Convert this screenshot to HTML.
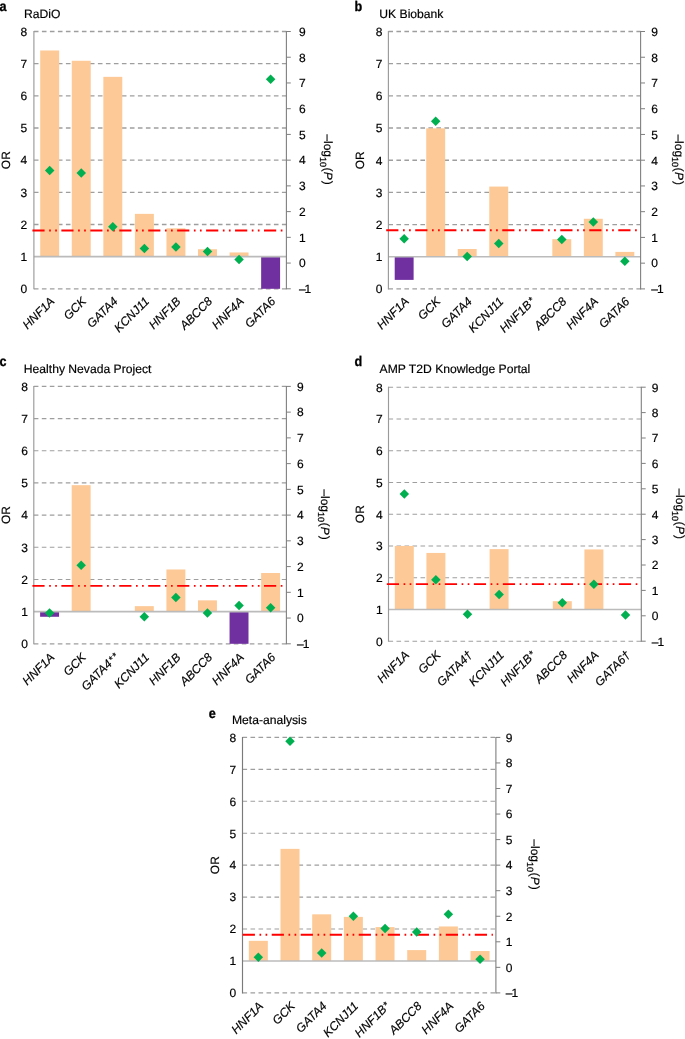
<!DOCTYPE html>
<html><head><meta charset="utf-8"><style>
html,body{margin:0;padding:0;background:#fff;width:685px;height:1039px;overflow:hidden;}
svg{display:block;will-change:transform;text-rendering:geometricPrecision;}
.t{font-family:'Liberation Sans', sans-serif;font-size:12px;fill:#000;stroke:#000;stroke-width:0.18px;}
.i{font-style:italic;}
.b{font-weight:bold;font-size:14px;stroke-width:0.3px;}
</style></head><body>
<svg width="685" height="1039" viewBox="0 0 685 1039">
<rect width="685" height="1039" fill="#fff"/>
<line x1="33.9" y1="288.8" x2="286.4" y2="288.8" stroke="#9E9E9E" stroke-width="1.35" stroke-dasharray="4.6 3.4"/>
<line x1="33.9" y1="224.48" x2="286.4" y2="224.48" stroke="#9E9E9E" stroke-width="1.35" stroke-dasharray="4.6 3.4"/>
<line x1="33.9" y1="192.31" x2="286.4" y2="192.31" stroke="#9E9E9E" stroke-width="1.35" stroke-dasharray="4.6 3.4"/>
<line x1="33.9" y1="160.15" x2="286.4" y2="160.15" stroke="#9E9E9E" stroke-width="1.35" stroke-dasharray="4.6 3.4"/>
<line x1="33.9" y1="127.99" x2="286.4" y2="127.99" stroke="#9E9E9E" stroke-width="1.35" stroke-dasharray="4.6 3.4"/>
<line x1="33.9" y1="95.82" x2="286.4" y2="95.82" stroke="#9E9E9E" stroke-width="1.35" stroke-dasharray="4.6 3.4"/>
<line x1="33.9" y1="63.66" x2="286.4" y2="63.66" stroke="#9E9E9E" stroke-width="1.35" stroke-dasharray="4.6 3.4"/>
<line x1="33.9" y1="31.5" x2="286.4" y2="31.5" stroke="#9E9E9E" stroke-width="1.35" stroke-dasharray="4.6 3.4"/>
<rect x="40.21" y="50.48" width="18.94" height="206.16" fill="#FDC996"/>
<rect x="71.77" y="60.77" width="18.94" height="195.87" fill="#FDC996"/>
<rect x="103.34" y="76.85" width="18.94" height="179.79" fill="#FDC996"/>
<rect x="134.9" y="213.86" width="18.94" height="42.78" fill="#FDC996"/>
<rect x="166.46" y="228.33" width="18.94" height="28.3" fill="#FDC996"/>
<rect x="198.02" y="249.24" width="18.94" height="7.4" fill="#FDC996"/>
<rect x="229.59" y="252.46" width="18.94" height="4.18" fill="#FDC996"/>
<rect x="261.15" y="256.64" width="18.94" height="32.16" fill="#7030A0"/>
<line x1="33.9" y1="256.64" x2="286.4" y2="256.64" stroke="#BBBBBB" stroke-width="1.6"/>
<line x1="33.9" y1="31" x2="33.9" y2="289.3" stroke="#9A9A9A" stroke-width="1.15"/>
<line x1="286.4" y1="31" x2="286.4" y2="289.3" stroke="#7F7F7F" stroke-width="1.1"/>
<line x1="286.4" y1="288.8" x2="290.8" y2="288.8" stroke="#7F7F7F" stroke-width="1"/>
<line x1="286.4" y1="263.07" x2="290.8" y2="263.07" stroke="#7F7F7F" stroke-width="1"/>
<line x1="286.4" y1="237.34" x2="290.8" y2="237.34" stroke="#7F7F7F" stroke-width="1"/>
<line x1="286.4" y1="211.61" x2="290.8" y2="211.61" stroke="#7F7F7F" stroke-width="1"/>
<line x1="286.4" y1="185.88" x2="290.8" y2="185.88" stroke="#7F7F7F" stroke-width="1"/>
<line x1="286.4" y1="160.15" x2="290.8" y2="160.15" stroke="#7F7F7F" stroke-width="1"/>
<line x1="286.4" y1="134.42" x2="290.8" y2="134.42" stroke="#7F7F7F" stroke-width="1"/>
<line x1="286.4" y1="108.69" x2="290.8" y2="108.69" stroke="#7F7F7F" stroke-width="1"/>
<line x1="286.4" y1="82.96" x2="290.8" y2="82.96" stroke="#7F7F7F" stroke-width="1"/>
<line x1="286.4" y1="57.23" x2="290.8" y2="57.23" stroke="#7F7F7F" stroke-width="1"/>
<line x1="286.4" y1="31.5" x2="290.8" y2="31.5" stroke="#7F7F7F" stroke-width="1"/>
<line x1="32.4" y1="230.5" x2="283.4" y2="230.5" stroke="#FF0000" stroke-width="1.9" stroke-dasharray="12.19 4.56 1.69 4.36 1.69 4.46"/>
<path d="M49.68 165.69L54.43 170.44L49.68 175.19L44.93 170.44Z" fill="#00B050"/>
<path d="M81.24 168.27L85.99 173.02L81.24 177.77L76.49 173.02Z" fill="#00B050"/>
<path d="M112.81 222.04L117.56 226.79L112.81 231.54L108.06 226.79Z" fill="#00B050"/>
<path d="M144.37 243.65L149.12 248.4L144.37 253.15L139.62 248.4Z" fill="#00B050"/>
<path d="M175.93 242.37L180.68 247.12L175.93 251.87L171.18 247.12Z" fill="#00B050"/>
<path d="M207.49 246.74L212.24 251.49L207.49 256.24L202.74 251.49Z" fill="#00B050"/>
<path d="M239.06 254.72L243.81 259.47L239.06 264.22L234.31 259.47Z" fill="#00B050"/>
<path d="M270.62 74.61L275.37 79.36L270.62 84.11L265.87 79.36Z" fill="#00B050"/>
<text x="27.1" y="293.1" text-anchor="end" class="t">0</text>
<text x="27.1" y="260.94" text-anchor="end" class="t">1</text>
<text x="27.1" y="228.78" text-anchor="end" class="t">2</text>
<text x="27.1" y="196.61" text-anchor="end" class="t">3</text>
<text x="27.1" y="164.45" text-anchor="end" class="t">4</text>
<text x="27.1" y="132.29" text-anchor="end" class="t">5</text>
<text x="27.1" y="100.12" text-anchor="end" class="t">6</text>
<text x="27.1" y="67.96" text-anchor="end" class="t">7</text>
<text x="27.1" y="35.8" text-anchor="end" class="t">8</text>
<text x="298.9" y="293.1" class="t">–<tspan dx="-1">1</tspan></text>
<text x="298.9" y="267.37" class="t">0</text>
<text x="298.9" y="241.64" class="t">1</text>
<text x="298.9" y="215.91" class="t">2</text>
<text x="298.9" y="190.18" class="t">3</text>
<text x="298.9" y="164.45" class="t">4</text>
<text x="298.9" y="138.72" class="t">5</text>
<text x="298.9" y="112.99" class="t">6</text>
<text x="298.9" y="87.26" class="t">7</text>
<text x="298.9" y="61.53" class="t">8</text>
<text x="298.9" y="35.8" class="t">9</text>
<text x="55.28" y="302" text-anchor="end" class="t i" transform="rotate(-45 55.28 302)">HNF1A</text>
<text x="86.84" y="302" text-anchor="end" class="t i" transform="rotate(-45 86.84 302)">GCK</text>
<text x="118.41" y="302" text-anchor="end" class="t i" transform="rotate(-45 118.41 302)">GATA4</text>
<text x="149.97" y="302" text-anchor="end" class="t i" transform="rotate(-45 149.97 302)">KCNJ11</text>
<text x="181.53" y="302" text-anchor="end" class="t i" transform="rotate(-45 181.53 302)">HNF1B</text>
<text x="213.09" y="302" text-anchor="end" class="t i" transform="rotate(-45 213.09 302)">ABCC8</text>
<text x="244.66" y="302" text-anchor="end" class="t i" transform="rotate(-45 244.66 302)">HNF4A</text>
<text x="276.22" y="302" text-anchor="end" class="t i" transform="rotate(-45 276.22 302)">GATA6</text>
<text x="9.9" y="160.15" text-anchor="middle" class="t" transform="rotate(-90 9.9 160.15)">OR</text>
<text x="0" y="0" class="t" transform="translate(323.6 134.35) rotate(90)">–log<tspan font-size="9" dy="3.8">10</tspan><tspan dy="-3.8" dx="0.4">(</tspan><tspan font-style="italic" dx="0.4">P</tspan><tspan dx="1.0">)</tspan></text>
<text x="0" y="0" class="t b" transform="translate(-0.6 10.9) scale(0.9 1)">a</text>
<text x="24" y="18" class="t" style="font-size:12.15px">RaDiO</text>
<line x1="388.4" y1="288.9" x2="640.6" y2="288.9" stroke="#9E9E9E" stroke-width="1.35" stroke-dasharray="4.6 3.4"/>
<line x1="388.4" y1="224.55" x2="640.6" y2="224.55" stroke="#9E9E9E" stroke-width="1.35" stroke-dasharray="4.6 3.4"/>
<line x1="388.4" y1="192.38" x2="640.6" y2="192.38" stroke="#9E9E9E" stroke-width="1.35" stroke-dasharray="4.6 3.4"/>
<line x1="388.4" y1="160.2" x2="640.6" y2="160.2" stroke="#9E9E9E" stroke-width="1.35" stroke-dasharray="4.6 3.4"/>
<line x1="388.4" y1="128.02" x2="640.6" y2="128.02" stroke="#9E9E9E" stroke-width="1.35" stroke-dasharray="4.6 3.4"/>
<line x1="388.4" y1="95.85" x2="640.6" y2="95.85" stroke="#9E9E9E" stroke-width="1.35" stroke-dasharray="4.6 3.4"/>
<line x1="388.4" y1="63.68" x2="640.6" y2="63.68" stroke="#9E9E9E" stroke-width="1.35" stroke-dasharray="4.6 3.4"/>
<line x1="388.4" y1="31.5" x2="640.6" y2="31.5" stroke="#9E9E9E" stroke-width="1.35" stroke-dasharray="4.6 3.4"/>
<rect x="394.7" y="256.72" width="18.92" height="23.17" fill="#7030A0"/>
<rect x="426.23" y="128.35" width="18.92" height="128.38" fill="#FDC996"/>
<rect x="457.75" y="249" width="18.92" height="7.72" fill="#FDC996"/>
<rect x="489.28" y="186.58" width="18.92" height="70.14" fill="#FDC996"/>
<rect x="552.33" y="239.19" width="18.92" height="17.54" fill="#FDC996"/>
<rect x="583.86" y="218.76" width="18.92" height="37.97" fill="#FDC996"/>
<rect x="615.38" y="251.9" width="18.92" height="4.83" fill="#FDC996"/>
<line x1="388.4" y1="256.72" x2="640.6" y2="256.72" stroke="#BBBBBB" stroke-width="1.6"/>
<line x1="388.4" y1="31" x2="388.4" y2="289.4" stroke="#9A9A9A" stroke-width="1.15"/>
<line x1="640.6" y1="31" x2="640.6" y2="289.4" stroke="#7F7F7F" stroke-width="1.1"/>
<line x1="640.6" y1="288.9" x2="645" y2="288.9" stroke="#7F7F7F" stroke-width="1"/>
<line x1="640.6" y1="263.16" x2="645" y2="263.16" stroke="#7F7F7F" stroke-width="1"/>
<line x1="640.6" y1="237.42" x2="645" y2="237.42" stroke="#7F7F7F" stroke-width="1"/>
<line x1="640.6" y1="211.68" x2="645" y2="211.68" stroke="#7F7F7F" stroke-width="1"/>
<line x1="640.6" y1="185.94" x2="645" y2="185.94" stroke="#7F7F7F" stroke-width="1"/>
<line x1="640.6" y1="160.2" x2="645" y2="160.2" stroke="#7F7F7F" stroke-width="1"/>
<line x1="640.6" y1="134.46" x2="645" y2="134.46" stroke="#7F7F7F" stroke-width="1"/>
<line x1="640.6" y1="108.72" x2="645" y2="108.72" stroke="#7F7F7F" stroke-width="1"/>
<line x1="640.6" y1="82.98" x2="645" y2="82.98" stroke="#7F7F7F" stroke-width="1"/>
<line x1="640.6" y1="57.24" x2="645" y2="57.24" stroke="#7F7F7F" stroke-width="1"/>
<line x1="640.6" y1="31.5" x2="645" y2="31.5" stroke="#7F7F7F" stroke-width="1"/>
<line x1="386.2" y1="230.3" x2="637.6" y2="230.3" stroke="#FF0000" stroke-width="1.9" stroke-dasharray="12.22 4.57 1.69 4.37 1.69 4.47"/>
<path d="M404.16 233.96L408.91 238.71L404.16 243.46L399.41 238.71Z" fill="#00B050"/>
<path d="M435.69 116.58L440.44 121.33L435.69 126.08L430.94 121.33Z" fill="#00B050"/>
<path d="M467.21 251.72L471.96 256.47L467.21 261.22L462.46 256.47Z" fill="#00B050"/>
<path d="M498.74 238.85L503.49 243.6L498.74 248.35L493.99 243.6Z" fill="#00B050"/>
<path d="M561.79 234.73L566.54 239.48L561.79 244.23L557.04 239.48Z" fill="#00B050"/>
<path d="M593.31 217.23L598.06 221.98L593.31 226.73L588.56 221.98Z" fill="#00B050"/>
<path d="M624.84 256.61L629.59 261.36L624.84 266.11L620.09 261.36Z" fill="#00B050"/>
<text x="382.4" y="293.2" text-anchor="end" class="t">0</text>
<text x="382.4" y="261.02" text-anchor="end" class="t">1</text>
<text x="382.4" y="228.85" text-anchor="end" class="t">2</text>
<text x="382.4" y="196.68" text-anchor="end" class="t">3</text>
<text x="382.4" y="164.5" text-anchor="end" class="t">4</text>
<text x="382.4" y="132.32" text-anchor="end" class="t">5</text>
<text x="382.4" y="100.15" text-anchor="end" class="t">6</text>
<text x="382.4" y="67.98" text-anchor="end" class="t">7</text>
<text x="382.4" y="35.8" text-anchor="end" class="t">8</text>
<text x="651.2" y="293.2" class="t">–<tspan dx="-1">1</tspan></text>
<text x="651.2" y="267.46" class="t">0</text>
<text x="651.2" y="241.72" class="t">1</text>
<text x="651.2" y="215.98" class="t">2</text>
<text x="651.2" y="190.24" class="t">3</text>
<text x="651.2" y="164.5" class="t">4</text>
<text x="651.2" y="138.76" class="t">5</text>
<text x="651.2" y="113.02" class="t">6</text>
<text x="651.2" y="87.28" class="t">7</text>
<text x="651.2" y="61.54" class="t">8</text>
<text x="651.2" y="35.8" class="t">9</text>
<text x="409.66" y="302.2" text-anchor="end" class="t i" transform="rotate(-45 409.66 302.2)">HNF1A</text>
<text x="441.19" y="302.2" text-anchor="end" class="t i" transform="rotate(-45 441.19 302.2)">GCK</text>
<text x="472.71" y="302.2" text-anchor="end" class="t i" transform="rotate(-45 472.71 302.2)">GATA4</text>
<text x="504.24" y="302.2" text-anchor="end" class="t i" transform="rotate(-45 504.24 302.2)">KCNJ11</text>
<text x="535.76" y="302.2" text-anchor="end" class="t i" transform="rotate(-45 535.76 302.2)">HNF1B<tspan font-size="10" dx="0.8" dy="-1.2">*</tspan></text>
<text x="567.29" y="302.2" text-anchor="end" class="t i" transform="rotate(-45 567.29 302.2)">ABCC8</text>
<text x="598.81" y="302.2" text-anchor="end" class="t i" transform="rotate(-45 598.81 302.2)">HNF4A</text>
<text x="630.34" y="302.2" text-anchor="end" class="t i" transform="rotate(-45 630.34 302.2)">GATA6</text>
<text x="364.4" y="160.2" text-anchor="middle" class="t" transform="rotate(-90 364.4 160.2)">OR</text>
<text x="0" y="0" class="t" transform="translate(675.4 134.4) rotate(90)">–log<tspan font-size="9" dy="3.8">10</tspan><tspan dy="-3.8" dx="0.4">(</tspan><tspan font-style="italic" dx="0.4">P</tspan><tspan dx="1.0">)</tspan></text>
<text x="0" y="0" class="t b" transform="translate(354.6 10.9) scale(0.9 1)">b</text>
<text x="379.3" y="17.8" class="t" style="font-size:12.15px">UK Biobank</text>
<line x1="33.8" y1="643.8" x2="286.4" y2="643.8" stroke="#9E9E9E" stroke-width="1.15" stroke-dasharray="4.6 3.4"/>
<line x1="33.8" y1="579.45" x2="286.4" y2="579.45" stroke="#9E9E9E" stroke-width="1.15" stroke-dasharray="4.6 3.4"/>
<line x1="33.8" y1="547.27" x2="286.4" y2="547.27" stroke="#9E9E9E" stroke-width="1.15" stroke-dasharray="4.6 3.4"/>
<line x1="33.8" y1="515.1" x2="286.4" y2="515.1" stroke="#9E9E9E" stroke-width="1.15" stroke-dasharray="4.6 3.4"/>
<line x1="33.8" y1="482.92" x2="286.4" y2="482.92" stroke="#9E9E9E" stroke-width="1.15" stroke-dasharray="4.6 3.4"/>
<line x1="33.8" y1="450.75" x2="286.4" y2="450.75" stroke="#9E9E9E" stroke-width="1.15" stroke-dasharray="4.6 3.4"/>
<line x1="33.8" y1="418.57" x2="286.4" y2="418.57" stroke="#9E9E9E" stroke-width="1.15" stroke-dasharray="4.6 3.4"/>
<line x1="33.8" y1="386.4" x2="286.4" y2="386.4" stroke="#9E9E9E" stroke-width="1.15" stroke-dasharray="4.6 3.4"/>
<rect x="40.11" y="611.62" width="18.94" height="5.15" fill="#7030A0"/>
<rect x="71.69" y="485.18" width="18.94" height="126.45" fill="#FDC996"/>
<rect x="134.84" y="606.16" width="18.94" height="5.47" fill="#FDC996"/>
<rect x="166.41" y="569.48" width="18.94" height="42.15" fill="#FDC996"/>
<rect x="197.99" y="600.36" width="18.94" height="11.26" fill="#FDC996"/>
<rect x="229.56" y="611.62" width="18.94" height="32.17" fill="#7030A0"/>
<rect x="261.14" y="573.01" width="18.94" height="38.61" fill="#FDC996"/>
<line x1="33.8" y1="611.62" x2="286.4" y2="611.62" stroke="#BBBBBB" stroke-width="1.6"/>
<line x1="33.8" y1="385.9" x2="33.8" y2="644.3" stroke="#9A9A9A" stroke-width="1.15"/>
<line x1="286.4" y1="385.9" x2="286.4" y2="644.3" stroke="#7F7F7F" stroke-width="1.1"/>
<line x1="286.4" y1="643.8" x2="290.8" y2="643.8" stroke="#7F7F7F" stroke-width="1"/>
<line x1="286.4" y1="618.06" x2="290.8" y2="618.06" stroke="#7F7F7F" stroke-width="1"/>
<line x1="286.4" y1="592.32" x2="290.8" y2="592.32" stroke="#7F7F7F" stroke-width="1"/>
<line x1="286.4" y1="566.58" x2="290.8" y2="566.58" stroke="#7F7F7F" stroke-width="1"/>
<line x1="286.4" y1="540.84" x2="290.8" y2="540.84" stroke="#7F7F7F" stroke-width="1"/>
<line x1="286.4" y1="515.1" x2="290.8" y2="515.1" stroke="#7F7F7F" stroke-width="1"/>
<line x1="286.4" y1="489.36" x2="290.8" y2="489.36" stroke="#7F7F7F" stroke-width="1"/>
<line x1="286.4" y1="463.62" x2="290.8" y2="463.62" stroke="#7F7F7F" stroke-width="1"/>
<line x1="286.4" y1="437.88" x2="290.8" y2="437.88" stroke="#7F7F7F" stroke-width="1"/>
<line x1="286.4" y1="412.14" x2="290.8" y2="412.14" stroke="#7F7F7F" stroke-width="1"/>
<line x1="286.4" y1="386.4" x2="290.8" y2="386.4" stroke="#7F7F7F" stroke-width="1"/>
<line x1="32.4" y1="585.9" x2="283.4" y2="585.9" stroke="#FF0000" stroke-width="1.9" stroke-dasharray="12.19 4.56 1.69 4.36 1.69 4.46"/>
<path d="M49.59 608.16L54.34 612.91L49.59 617.66L44.84 612.91Z" fill="#00B050"/>
<path d="M81.16 560.54L85.91 565.29L81.16 570.04L76.41 565.29Z" fill="#00B050"/>
<path d="M144.31 612.02L149.06 616.77L144.31 621.52L139.56 616.77Z" fill="#00B050"/>
<path d="M175.89 592.72L180.64 597.47L175.89 602.22L171.14 597.47Z" fill="#00B050"/>
<path d="M207.46 608.16L212.21 612.91L207.46 617.66L202.71 612.91Z" fill="#00B050"/>
<path d="M239.04 600.7L243.79 605.45L239.04 610.2L234.29 605.45Z" fill="#00B050"/>
<path d="M270.61 603.01L275.36 607.76L270.61 612.51L265.86 607.76Z" fill="#00B050"/>
<text x="28" y="648.1" text-anchor="end" class="t">0</text>
<text x="28" y="615.92" text-anchor="end" class="t">1</text>
<text x="28" y="583.75" text-anchor="end" class="t">2</text>
<text x="28" y="551.57" text-anchor="end" class="t">3</text>
<text x="28" y="519.4" text-anchor="end" class="t">4</text>
<text x="28" y="487.22" text-anchor="end" class="t">5</text>
<text x="28" y="455.05" text-anchor="end" class="t">6</text>
<text x="28" y="422.88" text-anchor="end" class="t">7</text>
<text x="28" y="390.7" text-anchor="end" class="t">8</text>
<text x="297" y="648.1" class="t">–<tspan dx="-1">1</tspan></text>
<text x="297" y="622.36" class="t">0</text>
<text x="297" y="596.62" class="t">1</text>
<text x="297" y="570.88" class="t">2</text>
<text x="297" y="545.14" class="t">3</text>
<text x="297" y="519.4" class="t">4</text>
<text x="297" y="493.66" class="t">5</text>
<text x="297" y="467.92" class="t">6</text>
<text x="297" y="442.18" class="t">7</text>
<text x="297" y="416.44" class="t">8</text>
<text x="297" y="390.7" class="t">9</text>
<text x="55.19" y="658" text-anchor="end" class="t i" transform="rotate(-45 55.19 658)">HNF1A</text>
<text x="86.76" y="658" text-anchor="end" class="t i" transform="rotate(-45 86.76 658)">GCK</text>
<text x="119.54" y="657.8" text-anchor="end" class="t i" transform="rotate(-45 119.54 657.8)">GATA4<tspan font-size="10" dx="0.8" dy="-1.2">*</tspan><tspan font-size="10" dx="1.0">*</tspan></text>
<text x="149.91" y="658" text-anchor="end" class="t i" transform="rotate(-45 149.91 658)">KCNJ11</text>
<text x="181.49" y="658" text-anchor="end" class="t i" transform="rotate(-45 181.49 658)">HNF1B</text>
<text x="213.06" y="658" text-anchor="end" class="t i" transform="rotate(-45 213.06 658)">ABCC8</text>
<text x="244.64" y="658" text-anchor="end" class="t i" transform="rotate(-45 244.64 658)">HNF4A</text>
<text x="276.21" y="658" text-anchor="end" class="t i" transform="rotate(-45 276.21 658)">GATA6</text>
<text x="9.8" y="515.1" text-anchor="middle" class="t" transform="rotate(-90 9.8 515.1)">OR</text>
<text x="0" y="0" class="t" transform="translate(321.4 489.3) rotate(90)">–log<tspan font-size="9" dy="3.8">10</tspan><tspan dy="-3.8" dx="0.4">(</tspan><tspan font-style="italic" dx="0.4">P</tspan><tspan dx="1.0">)</tspan></text>
<text x="0" y="0" class="t b" transform="translate(-0.6 366.3) scale(0.9 1)">c</text>
<text x="23.8" y="372.8" class="t" style="font-size:12.15px">Healthy Nevada Project</text>
<line x1="388.5" y1="641.2" x2="641.3" y2="641.2" stroke="#9E9E9E" stroke-width="1.15" stroke-dasharray="4.6 3.4"/>
<line x1="388.5" y1="577.7" x2="641.3" y2="577.7" stroke="#9E9E9E" stroke-width="1.15" stroke-dasharray="4.6 3.4"/>
<line x1="388.5" y1="545.95" x2="641.3" y2="545.95" stroke="#9E9E9E" stroke-width="1.15" stroke-dasharray="4.6 3.4"/>
<line x1="388.5" y1="514.2" x2="641.3" y2="514.2" stroke="#9E9E9E" stroke-width="1.15" stroke-dasharray="4.6 3.4"/>
<line x1="388.5" y1="482.45" x2="641.3" y2="482.45" stroke="#9E9E9E" stroke-width="1.15" stroke-dasharray="4.6 3.4"/>
<line x1="388.5" y1="450.7" x2="641.3" y2="450.7" stroke="#9E9E9E" stroke-width="1.15" stroke-dasharray="4.6 3.4"/>
<line x1="388.5" y1="418.95" x2="641.3" y2="418.95" stroke="#9E9E9E" stroke-width="1.15" stroke-dasharray="4.6 3.4"/>
<line x1="388.5" y1="387.2" x2="641.3" y2="387.2" stroke="#9E9E9E" stroke-width="1.15" stroke-dasharray="4.6 3.4"/>
<rect x="394.82" y="545.95" width="18.96" height="63.5" fill="#FDC996"/>
<rect x="426.42" y="552.94" width="18.96" height="56.51" fill="#FDC996"/>
<rect x="489.62" y="549.12" width="18.96" height="60.33" fill="#FDC996"/>
<rect x="552.82" y="601.2" width="18.96" height="8.25" fill="#FDC996"/>
<rect x="584.42" y="549.44" width="18.96" height="60.01" fill="#FDC996"/>
<line x1="388.5" y1="609.45" x2="641.3" y2="609.45" stroke="#BBBBBB" stroke-width="1.6"/>
<line x1="388.5" y1="386.7" x2="388.5" y2="641.7" stroke="#9A9A9A" stroke-width="1.15"/>
<line x1="641.3" y1="386.7" x2="641.3" y2="641.7" stroke="#7F7F7F" stroke-width="1.1"/>
<line x1="641.3" y1="641.2" x2="645.7" y2="641.2" stroke="#7F7F7F" stroke-width="1"/>
<line x1="641.3" y1="615.8" x2="645.7" y2="615.8" stroke="#7F7F7F" stroke-width="1"/>
<line x1="641.3" y1="590.4" x2="645.7" y2="590.4" stroke="#7F7F7F" stroke-width="1"/>
<line x1="641.3" y1="565" x2="645.7" y2="565" stroke="#7F7F7F" stroke-width="1"/>
<line x1="641.3" y1="539.6" x2="645.7" y2="539.6" stroke="#7F7F7F" stroke-width="1"/>
<line x1="641.3" y1="514.2" x2="645.7" y2="514.2" stroke="#7F7F7F" stroke-width="1"/>
<line x1="641.3" y1="488.8" x2="645.7" y2="488.8" stroke="#7F7F7F" stroke-width="1"/>
<line x1="641.3" y1="463.4" x2="645.7" y2="463.4" stroke="#7F7F7F" stroke-width="1"/>
<line x1="641.3" y1="438" x2="645.7" y2="438" stroke="#7F7F7F" stroke-width="1"/>
<line x1="641.3" y1="412.6" x2="645.7" y2="412.6" stroke="#7F7F7F" stroke-width="1"/>
<line x1="641.3" y1="387.2" x2="645.7" y2="387.2" stroke="#7F7F7F" stroke-width="1"/>
<line x1="386.8" y1="584.1" x2="638.3" y2="584.1" stroke="#FF0000" stroke-width="1.9" stroke-dasharray="12.22 4.57 1.69 4.37 1.69 4.47"/>
<path d="M404.3 489.13L409.05 493.88L404.3 498.63L399.55 493.88Z" fill="#00B050"/>
<path d="M435.9 574.98L440.65 579.73L435.9 584.48L431.15 579.73Z" fill="#00B050"/>
<path d="M467.5 609.53L472.25 614.28L467.5 619.03L462.75 614.28Z" fill="#00B050"/>
<path d="M499.1 589.71L503.85 594.46L499.1 599.21L494.35 594.46Z" fill="#00B050"/>
<path d="M562.3 598.1L567.05 602.85L562.3 607.6L557.55 602.85Z" fill="#00B050"/>
<path d="M593.9 579.55L598.65 584.3L593.9 589.05L589.15 584.3Z" fill="#00B050"/>
<path d="M625.5 610.29L630.25 615.04L625.5 619.79L620.75 615.04Z" fill="#00B050"/>
<text x="382.7" y="645.5" text-anchor="end" class="t">0</text>
<text x="382.7" y="613.75" text-anchor="end" class="t">1</text>
<text x="382.7" y="582" text-anchor="end" class="t">2</text>
<text x="382.7" y="550.25" text-anchor="end" class="t">3</text>
<text x="382.7" y="518.5" text-anchor="end" class="t">4</text>
<text x="382.7" y="486.75" text-anchor="end" class="t">5</text>
<text x="382.7" y="455" text-anchor="end" class="t">6</text>
<text x="382.7" y="423.25" text-anchor="end" class="t">7</text>
<text x="382.7" y="391.5" text-anchor="end" class="t">8</text>
<text x="651.8" y="645.5" class="t">–<tspan dx="-1">1</tspan></text>
<text x="651.8" y="620.1" class="t">0</text>
<text x="651.8" y="594.7" class="t">1</text>
<text x="651.8" y="569.3" class="t">2</text>
<text x="651.8" y="543.9" class="t">3</text>
<text x="651.8" y="518.5" class="t">4</text>
<text x="651.8" y="493.1" class="t">5</text>
<text x="651.8" y="467.7" class="t">6</text>
<text x="651.8" y="442.3" class="t">7</text>
<text x="651.8" y="416.9" class="t">8</text>
<text x="651.8" y="391.5" class="t">9</text>
<text x="409.9" y="655.8" text-anchor="end" class="t i" transform="rotate(-45 409.9 655.8)">HNF1A</text>
<text x="441.5" y="655.8" text-anchor="end" class="t i" transform="rotate(-45 441.5 655.8)">GCK</text>
<text x="473.1" y="655.8" text-anchor="end" class="t i" transform="rotate(-45 473.1 655.8)">GATA4†</text>
<text x="504.7" y="655.8" text-anchor="end" class="t i" transform="rotate(-45 504.7 655.8)">KCNJ11</text>
<text x="536.3" y="655.8" text-anchor="end" class="t i" transform="rotate(-45 536.3 655.8)">HNF1B<tspan font-size="10" dx="0.8" dy="-1.2">*</tspan></text>
<text x="567.9" y="655.8" text-anchor="end" class="t i" transform="rotate(-45 567.9 655.8)">ABCC8</text>
<text x="599.5" y="655.8" text-anchor="end" class="t i" transform="rotate(-45 599.5 655.8)">HNF4A</text>
<text x="631.1" y="655.8" text-anchor="end" class="t i" transform="rotate(-45 631.1 655.8)">GATA6†</text>
<text x="364.3" y="514.2" text-anchor="middle" class="t" transform="rotate(-90 364.3 514.2)">OR</text>
<text x="0" y="0" class="t" transform="translate(675.8 488.4) rotate(90)">–log<tspan font-size="9" dy="3.8">10</tspan><tspan dy="-3.8" dx="0.4">(</tspan><tspan font-style="italic" dx="0.4">P</tspan><tspan dx="1.0">)</tspan></text>
<text x="0" y="0" class="t b" transform="translate(354.6 366.3) scale(0.9 1)">d</text>
<text x="379.6" y="372.8" class="t" style="font-size:12.15px">AMP T2D Knowledge Portal</text>
<line x1="242.5" y1="992.9" x2="495.9" y2="992.9" stroke="#9E9E9E" stroke-width="1.15" stroke-dasharray="4.6 3.4"/>
<line x1="242.5" y1="929.02" x2="495.9" y2="929.02" stroke="#9E9E9E" stroke-width="1.15" stroke-dasharray="4.6 3.4"/>
<line x1="242.5" y1="897.09" x2="495.9" y2="897.09" stroke="#9E9E9E" stroke-width="1.15" stroke-dasharray="4.6 3.4"/>
<line x1="242.5" y1="865.15" x2="495.9" y2="865.15" stroke="#9E9E9E" stroke-width="1.15" stroke-dasharray="4.6 3.4"/>
<line x1="242.5" y1="833.21" x2="495.9" y2="833.21" stroke="#9E9E9E" stroke-width="1.15" stroke-dasharray="4.6 3.4"/>
<line x1="242.5" y1="801.27" x2="495.9" y2="801.27" stroke="#9E9E9E" stroke-width="1.15" stroke-dasharray="4.6 3.4"/>
<line x1="242.5" y1="769.34" x2="495.9" y2="769.34" stroke="#9E9E9E" stroke-width="1.15" stroke-dasharray="4.6 3.4"/>
<line x1="242.5" y1="737.4" x2="495.9" y2="737.4" stroke="#9E9E9E" stroke-width="1.15" stroke-dasharray="4.6 3.4"/>
<rect x="248.83" y="940.84" width="19" height="20.12" fill="#FDC996"/>
<rect x="280.51" y="848.86" width="19" height="112.1" fill="#FDC996"/>
<rect x="312.19" y="914.33" width="19" height="46.63" fill="#FDC996"/>
<rect x="343.86" y="916.89" width="19" height="44.07" fill="#FDC996"/>
<rect x="375.54" y="927.11" width="19" height="33.85" fill="#FDC996"/>
<rect x="407.21" y="950.1" width="19" height="10.86" fill="#FDC996"/>
<rect x="438.88" y="926.47" width="19" height="34.49" fill="#FDC996"/>
<rect x="470.56" y="951.06" width="19" height="9.9" fill="#FDC996"/>
<line x1="242.5" y1="960.96" x2="495.9" y2="960.96" stroke="#BBBBBB" stroke-width="1.6"/>
<line x1="242.5" y1="736.9" x2="242.5" y2="993.4" stroke="#7A7A7A" stroke-width="1.15"/>
<line x1="495.9" y1="736.9" x2="495.9" y2="993.4" stroke="#7F7F7F" stroke-width="1.1"/>
<line x1="495.9" y1="992.9" x2="500.3" y2="992.9" stroke="#7F7F7F" stroke-width="1"/>
<line x1="495.9" y1="967.35" x2="500.3" y2="967.35" stroke="#7F7F7F" stroke-width="1"/>
<line x1="495.9" y1="941.8" x2="500.3" y2="941.8" stroke="#7F7F7F" stroke-width="1"/>
<line x1="495.9" y1="916.25" x2="500.3" y2="916.25" stroke="#7F7F7F" stroke-width="1"/>
<line x1="495.9" y1="890.7" x2="500.3" y2="890.7" stroke="#7F7F7F" stroke-width="1"/>
<line x1="495.9" y1="865.15" x2="500.3" y2="865.15" stroke="#7F7F7F" stroke-width="1"/>
<line x1="495.9" y1="839.6" x2="500.3" y2="839.6" stroke="#7F7F7F" stroke-width="1"/>
<line x1="495.9" y1="814.05" x2="500.3" y2="814.05" stroke="#7F7F7F" stroke-width="1"/>
<line x1="495.9" y1="788.5" x2="500.3" y2="788.5" stroke="#7F7F7F" stroke-width="1"/>
<line x1="495.9" y1="762.95" x2="500.3" y2="762.95" stroke="#7F7F7F" stroke-width="1"/>
<line x1="495.9" y1="737.4" x2="500.3" y2="737.4" stroke="#7F7F7F" stroke-width="1"/>
<line x1="242.7" y1="934.8" x2="492.9" y2="934.8" stroke="#FF0000" stroke-width="1.9" stroke-dasharray="12.22 4.57 1.69 4.37 1.69 4.47"/>
<path d="M258.34 952.38L263.09 957.13L258.34 961.88L253.59 957.13Z" fill="#00B050"/>
<path d="M290.01 736.48L294.76 741.23L290.01 745.98L285.26 741.23Z" fill="#00B050"/>
<path d="M321.69 948.29L326.44 953.04L321.69 957.79L316.94 953.04Z" fill="#00B050"/>
<path d="M353.36 911.5L358.11 916.25L353.36 921L348.61 916.25Z" fill="#00B050"/>
<path d="M385.04 923.76L389.79 928.51L385.04 933.26L380.29 928.51Z" fill="#00B050"/>
<path d="M416.71 927.34L421.46 932.09L416.71 936.84L411.96 932.09Z" fill="#00B050"/>
<path d="M448.39 909.46L453.14 914.21L448.39 918.96L443.64 914.21Z" fill="#00B050"/>
<path d="M480.06 954.42L484.81 959.17L480.06 963.92L475.31 959.17Z" fill="#00B050"/>
<text x="236.1" y="997.2" text-anchor="end" class="t">0</text>
<text x="236.1" y="965.26" text-anchor="end" class="t">1</text>
<text x="236.1" y="933.32" text-anchor="end" class="t">2</text>
<text x="236.1" y="901.39" text-anchor="end" class="t">3</text>
<text x="236.1" y="869.45" text-anchor="end" class="t">4</text>
<text x="236.1" y="837.51" text-anchor="end" class="t">5</text>
<text x="236.1" y="805.57" text-anchor="end" class="t">6</text>
<text x="236.1" y="773.64" text-anchor="end" class="t">7</text>
<text x="236.1" y="741.7" text-anchor="end" class="t">8</text>
<text x="505.8" y="997.2" class="t">–<tspan dx="-1">1</tspan></text>
<text x="505.8" y="971.65" class="t">0</text>
<text x="505.8" y="946.1" class="t">1</text>
<text x="505.8" y="920.55" class="t">2</text>
<text x="505.8" y="895" class="t">3</text>
<text x="505.8" y="869.45" class="t">4</text>
<text x="505.8" y="843.9" class="t">5</text>
<text x="505.8" y="818.35" class="t">6</text>
<text x="505.8" y="792.8" class="t">7</text>
<text x="505.8" y="767.25" class="t">8</text>
<text x="505.8" y="741.7" class="t">9</text>
<text x="264.04" y="1006.8" text-anchor="end" class="t i" transform="rotate(-45 264.04 1006.8)">HNF1A</text>
<text x="295.71" y="1006.8" text-anchor="end" class="t i" transform="rotate(-45 295.71 1006.8)">GCK</text>
<text x="327.39" y="1006.8" text-anchor="end" class="t i" transform="rotate(-45 327.39 1006.8)">GATA4</text>
<text x="359.06" y="1006.8" text-anchor="end" class="t i" transform="rotate(-45 359.06 1006.8)">KCNJ11</text>
<text x="390.74" y="1006.8" text-anchor="end" class="t i" transform="rotate(-45 390.74 1006.8)">HNF1B<tspan font-size="10" dx="0.8" dy="-1.2">*</tspan></text>
<text x="422.41" y="1006.8" text-anchor="end" class="t i" transform="rotate(-45 422.41 1006.8)">ABCC8</text>
<text x="454.09" y="1006.8" text-anchor="end" class="t i" transform="rotate(-45 454.09 1006.8)">HNF4A</text>
<text x="485.76" y="1006.8" text-anchor="end" class="t i" transform="rotate(-45 485.76 1006.8)">GATA6</text>
<text x="219" y="865.15" text-anchor="middle" class="t" transform="rotate(-90 219 865.15)">OR</text>
<text x="0" y="0" class="t" transform="translate(530.5 839.35) rotate(90)">–log<tspan font-size="9" dy="3.8">10</tspan><tspan dy="-3.8" dx="0.4">(</tspan><tspan font-style="italic" dx="0.4">P</tspan><tspan dx="1.0">)</tspan></text>
<text x="0" y="0" class="t b" transform="translate(208.8 717.7) scale(0.9 1)">e</text>
<text x="231.9" y="724.3" class="t" style="font-size:12.15px">Meta-analysis</text>
</svg>
</body></html>
